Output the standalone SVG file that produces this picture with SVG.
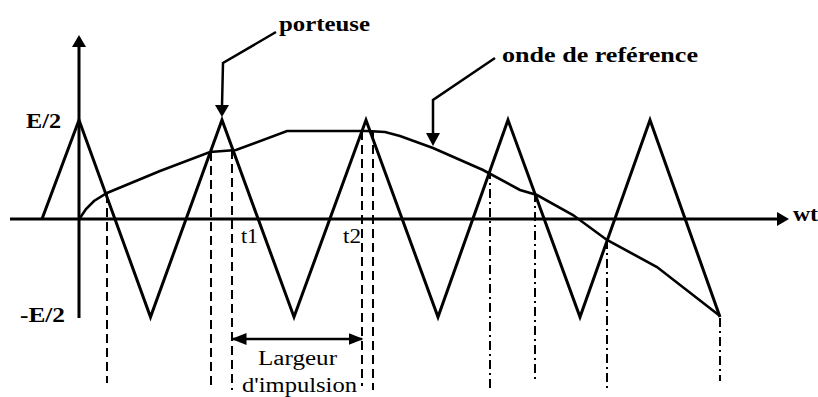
<svg xmlns="http://www.w3.org/2000/svg" width="818" height="397" viewBox="0 0 818 397">
<defs>
<style>
.ax{stroke:#000;stroke-width:3;fill:none}
.wave{stroke:#000;stroke-width:3;fill:none;stroke-linejoin:miter}
.ref{stroke:#000;stroke-width:2.6;fill:none}
.dash{stroke:#000;stroke-width:2;stroke-dasharray:9 5;fill:none}
.dashdot{stroke:#000;stroke-width:2;stroke-dasharray:9 4 2 4;fill:none}
.lead{stroke:#000;stroke-width:2.5;fill:none}
.bold{font-family:"Liberation Serif",serif;font-weight:bold;fill:#000}
.reg{font-family:"Liberation Serif",serif;fill:#000}
</style>
<marker id="ah2" viewBox="0 0 10 10" refX="9" refY="5" markerWidth="6" markerHeight="6" orient="auto-start-reverse" markerUnits="strokeWidth">
<path d="M0,1 L10,5 L0,9 z" fill="#000"/>
</marker>
</defs>
<rect width="818" height="397" fill="#fff"/>
<g id="axes">
<line class="ax" x1="10" y1="219" x2="779" y2="219"/>
<path d="M789,219 L777,212 L777,226 z" fill="#000"/>
<line class="ax" x1="79" y1="46" x2="79" y2="318"/>
<path d="M79,35 L72,47 L86,47 z" fill="#000"/>
</g>
<g id="porteuse-wave">
<polyline class="wave" points="42,219 79,120 150.5,317 222,120 294,317 366,120 438,317 508,120 580,317 650,120 720,317"/>
</g>
<g id="reference-wave">
<polyline class="ref" points="80,218 86,209 94,201 107,193 160,171 210,152 236,150 287,131 367,131 385,132 400,136 433,148 483,170 520,190 537,195 573,215 607,240 657,267 720,316"/>
</g>
<g id="connectors">
<line class="dash" x1="107" y1="194" x2="107" y2="383"/>
<line class="dash" x1="211" y1="152" x2="211" y2="390"/>
<line class="dash" x1="232" y1="150" x2="232" y2="390"/>
<line class="dash" x1="362" y1="131" x2="362" y2="386"/>
<line class="dash" x1="373" y1="131" x2="373" y2="390"/>
<line class="dashdot" x1="490" y1="170" x2="490" y2="389"/>
<line class="dashdot" x1="535" y1="193" x2="535" y2="381"/>
<line class="dashdot" x1="607" y1="240" x2="607" y2="389"/>
<line class="dashdot" x1="720" y1="318" x2="720" y2="381"/>
<line class="lead" x1="233" y1="339" x2="362" y2="339" marker-start="url(#ah2)" marker-end="url(#ah2)"/>
<polyline class="lead" points="276,32 223,63 222,106"/>
<path d="M222,117 L215,105 L229,105 z" fill="#000"/>
<polyline class="lead" points="495,58 433,100 433,134"/>
<path d="M433,146 L426,133 L440,133 z" fill="#000"/>
</g>
<g id="labels">
<text class="bold" x="26" y="128" font-size="22" textLength="35" lengthAdjust="spacingAndGlyphs">E/2</text>
<text class="bold" x="20" y="322" font-size="22" textLength="45" lengthAdjust="spacingAndGlyphs">-E/2</text>
<text class="bold" x="279" y="31" font-size="21" textLength="91" lengthAdjust="spacingAndGlyphs">porteuse</text>
<text class="bold" x="502" y="62" font-size="22" textLength="196" lengthAdjust="spacingAndGlyphs">onde de reférence</text>
<text class="bold" x="793" y="221" font-size="20" textLength="25" lengthAdjust="spacingAndGlyphs">wt</text>
<text class="reg" x="241" y="243" font-size="20" textLength="17" lengthAdjust="spacingAndGlyphs">t1</text>
<text class="reg" x="343" y="243" font-size="20" textLength="18" lengthAdjust="spacingAndGlyphs">t2</text>
<text class="reg" x="258" y="365" font-size="20" textLength="79" lengthAdjust="spacingAndGlyphs">Largeur</text>
<text class="reg" x="242" y="392" font-size="20" textLength="115" lengthAdjust="spacingAndGlyphs">d'impulsion</text>
</g>
</svg>
